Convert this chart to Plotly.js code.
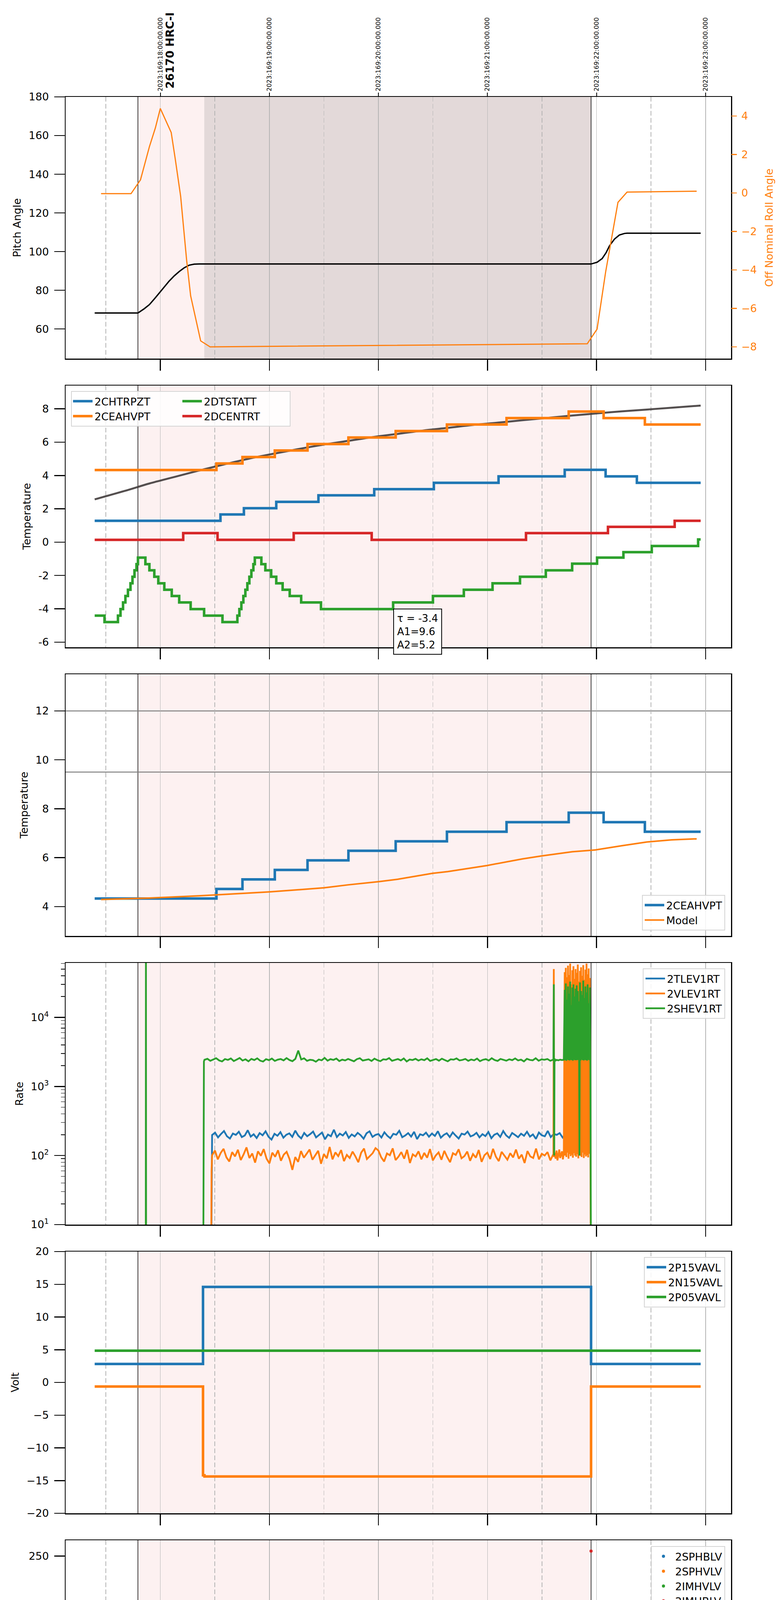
<!DOCTYPE html>
<html>
<head>
<meta charset="utf-8">
<script src="https://cdn.plot.ly/plotly-3.0.1.min.js"></script>
<style>body{margin:0;background:#fff}</style>
</head>
<body>
<div id="chart" style="width:2000px;height:6200px"></div>
<script>
// all times: minutes after 2023-06-18 14:00 local (EDT)
const T14 = Date.UTC(2023, 5, 18, 14, 0, 0);
function tx(m) { return new Date(T14 + m * 60000).toISOString().replace('T', ' ').replace('Z', ''); }
function txs(a) { return a.map(tx); }

const hourTicks = [0, 60, 120, 180, 240, 300];
const hourLabels = ['14h', '15h', '16h', '17h', '18h', '19h'];
const halfTicks = [-30, 30, 90, 150, 210, 270];
const utcLabels = ['2023:169:18:00:00.000', '2023:169:19:00:00.000', '2023:169:20:00:00.000',
                   '2023:169:21:00:00.000', '2023:169:22:00:00.000', '2023:169:23:00:00.000'];
const xRange = [-52.1, 314.0];
const obsStart = -12.3, obsEnd = 237.0, shadeStart = 24.2;

// ---- panel 1: pitch / roll
const pitchT = [-36.1, -12.3, -8.8, -6.0, -3.3, -0.5, 2.2, 4.9, 7.7, 10.4, 13.1, 15.9, 18.6, 21.4, 237.0, 240.3, 243.1, 245.3, 247.2, 249.9, 252.6, 255.4, 256.8, 297.3];
const pitchV = [68.3, 68.3, 70.5, 72.6, 75.5, 78.7, 81.8, 84.8, 87.5, 89.7, 91.6, 93.0, 93.5, 93.6, 93.6, 94.5, 96.4, 99.5, 103.1, 106.5, 108.6, 109.4, 109.5, 109.5];
const rollT = [-32.6, -16.1, -10.9, -8.8, -6.0, -2.7, 0, 6.0, 8.2, 11.2, 14.5, 16.7, 22.2, 27.4, 234.9, 240.3, 245.0, 251.8, 256.8, 295.1];
const rollV = [-0.04, -0.04, 0.68, 1.42, 2.40, 3.38, 4.39, 3.14, 1.78, -0.18, -3.51, -5.35, -7.69, -8.0, -7.84, -7.08, -4.12, -0.49, 0.04, 0.09];

// ---- panel 2 / 3: temperatures
const ceahT = [-36.1, 30.9, 45.2, 63.0, 81.0, 103.5, 129.5, 157.7, 190.5, 224.7, 243.9, 266.6, 297.3];
const ceahV = [4.33, 4.72, 5.11, 5.50, 5.89, 6.28, 6.67, 7.06, 7.45, 7.84, 7.45, 7.06, 7.06];
const chtrT = [-36.1, 33.1, 46.0, 63.8, 87.0, 117.7, 150.5, 186.1, 222.5, 245.0, 262.2, 297.3];
const chtrV = [1.28, 1.66, 2.04, 2.42, 2.81, 3.18, 3.56, 3.95, 4.34, 3.95, 3.56, 3.56];
const dcenT = [-36.1, 12.6, 31.5, 73.4, 116.3, 201.2, 246.3, 283.0, 297.3];
const dcenV = [0.14, 0.54, 0.14, 0.54, 0.14, 0.54, 0.92, 1.28, 1.28];
const dtstT = [-36.1, -30.7, -23.3, -21.9, -20.5, -19.2, -17.8, -16.4, -15.3, -14.2, -13.1, -12.3, -8.2, -6.0, -3.3, -1.1, 2.2, 6.3, 10.4, 16.7, 24.1, 34.2, 42.4, 43.5, 44.6, 45.7, 46.8, 47.9, 49.0, 50.1, 51.2, 52.0, 55.6, 57.8, 61.0, 63.8, 67.3, 71.2, 77.5, 88.4, 128.1, 150.0, 167.0, 182.8, 197.9, 212.1, 226.6, 240.3, 254.8, 270.4, 295.9, 297.3];
const dtstV = [-4.41, -4.80, -4.41, -4.02, -3.62, -3.23, -2.86, -2.47, -2.08, -1.69, -1.32, -0.93, -1.32, -1.69, -2.08, -2.47, -2.86, -3.23, -3.62, -4.02, -4.41, -4.80, -4.41, -4.02, -3.62, -3.23, -2.86, -2.47, -2.08, -1.69, -1.32, -0.93, -1.32, -1.69, -2.08, -2.47, -2.86, -3.23, -3.62, -4.02, -3.62, -3.23, -2.86, -2.47, -2.08, -1.69, -1.29, -0.93, -0.60, -0.23, 0.16, 0.16];
const fitT = [-36.1, -19.7, -6.0, 7.7, 21.4, 35.0, 48.7, 62.4, 76.1, 89.8, 103.5, 117.2, 130.8, 144.5, 158.2, 171.9, 185.6, 199.3, 213.0, 226.6, 240.3, 254.0, 267.7, 281.4, 297.3];
const fitV = [2.57, 3.07, 3.52, 3.91, 4.30, 4.66, 5.01, 5.31, 5.59, 5.85, 6.08, 6.31, 6.50, 6.70, 6.86, 7.03, 7.17, 7.32, 7.46, 7.60, 7.73, 7.85, 7.96, 8.07, 8.20];
const modelT = [-32.6, -6.0, 21.4, 35.0, 59.9, 76.1, 90.1, 103.5, 120.2, 130.8, 149.7, 158.2, 171.9, 179.8, 199.3, 209.7, 226.6, 239.8, 254.0, 267.7, 281.4, 295.1];
const modelV = [4.29, 4.35, 4.44, 4.50, 4.60, 4.69, 4.77, 4.89, 5.02, 5.12, 5.36, 5.43, 5.58, 5.68, 5.95, 6.07, 6.24, 6.32, 6.49, 6.64, 6.73, 6.77];

// ---- panel 4: rates
const tlevPreT = [27.9, 28.2], tlevPreV = [1, 80];
const tlevBand = [198,214,183,205,226,190,176,208,199,221,185,195,232,188,203,179,211,196,224,187,170,206,193,218,181,200,209,186,229,194,177,212,190,204,222,183,198,215,172,201,190,236,185,207,195,219,180,202,189,213,197,175,210,224,186,199,205,182,217,193,178,206,200,228,184,195,211,188,220,173,203,196,214,187,208,192,225,181,199,210,185,216,194,176,207,201,222,189,197,213,183,204,191,219,178,200,209,186,226,195,180,212,198,184,207,193,221,188,202,174,215,196,190,227,185,205,199,211,182,203];
const tlevBandSpan = [28.5, 223.0];
const vlevPreT = [27.9, 28.2], vlevPreV = [1, 60];
const vlevBand = [101,118,88,109,125,94,82,112,97,121,86,104,131,92,107,79,115,99,124,90,77,110,96,119,84,103,113,89,62,95,81,116,93,106,122,87,100,117,76,105,91,133,88,111,98,120,83,102,92,114,97,80,110,126,89,99,108,128,118,94,82,107,101,127,86,96,112,90,121,78,104,97,115,88,109,93,124,85,100,111,87,117,95,80,108,102,123,91,98,114,84,105,93,120,81,101,110,89,125,96,83,113,99,87,108,94,122,90,103,78,116,97,92,126,88,106,100,112,85,104];
const vlevBandSpan = [28.5, 216.2];
const vlevMidT = [216.3, 216.5, 216.7, 217.0, 217.5, 218.0, 218.5, 219.0, 219.5, 220.0, 220.5, 221.0, 221.5, 222.0];
const vlevMidV = [100, 50000, 95, 110, 90, 118, 85, 105, 122, 92, 101, 115, 88, 107];
const vlevChaos = [45000,100,52000,95,38000,110,56000,90, 41000,105,60000,98,30000,102,48000,93, 55000,108,36000,100,50000,96,44000,104, 58000,91,33000,107,47000,99,53000,95, 40000,110,57000,92,35000,103,49000,97, 60000,101,42000,94,51000,106,37000,100];
const vlevEndT = [236.9], vlevEndV = [2];
const shevPreT = [-36.1, -8.0, -7.9, -7.8, 23.6, 23.8, 24.0], shevPreV = [1, 1, 200000, 1, 1, 1100, 2300];
const shevBand = [2430,2510,2350,2460,2560,2380,2300,2490,2420,2540,2330,2450,2580,2370,2470,2310,2500,2410,2550,2360,2290,2480,2400,2530,2340,2440,2490,2380,2570,2410,2320,2500,3300,2460,2550,2350,2430,2400,2280,2450,2390,2590,2360,2480,2420,2530,2330,2440,2380,2500,2420,2310,2480,2560,2370,2430,2470,2340,2520,2400,2320,2470,2440,2570,2350,2420,2490,2380,2540,2300,2450,2410,2510,2370,2470,2400,2550,2340,2430,2490,2360,2520,2410,2310,2470,2440,2540,2380,2420,2500,2350,2450,2390,2530,2320,2430,2480,2370,2560,2410,2340,2500,2430,2360,2470,2400,2540,2380,2440,2300,2510,2420,2390,2560,2360,2460,2430,2490,2350,2440];
const shevBandSpan = [24.3, 216.2];
const shevMidT = [216.3, 216.5, 216.7, 216.9, 217.2, 217.6, 218.0, 219.0, 220.0, 221.0, 222.0];
const shevMidV = [2400, 30000, 100, 2400, 2450, 2380, 2420, 2390, 2440, 2410, 2430];
const shevChaos = [25000,2400,31000,2350,18000,2450,28000,2400, 22000,2380,33000,2420,15000,2400,27000,2360, 30000,2440,20000,2400,26000,2390,29000,2410, 24000,2430,17000,100,32000,2370,24000,2450, 21000,2400,34000,2380,19000,2420,28000,2400, 23000,2360,30000,2440,16000,2400,27000,2390];
const shevEndT = [237.0], shevEndV = [1];
const chaosStart = 222.5, chaosStep = 0.3;

// ---- panel 5: voltages
const p15T = [-36.1, 23.5, 237.0, 297.3], p15V = [2.82, 14.59, 2.82, 2.82];
const n15T = [-36.1, 23.5, 24.3, 237.0, 297.3], n15V = [-0.62, -14.2, -14.37, -0.62, -0.62];
const p05T = [-36.1, 297.3], p05V = [4.85, 4.85];

// ---- panel 6: HV monitors (2SPHBLV / 2SPHVLV carry no valid samples)
const sphbT = [0], sphbV = [null];
const sphvlT = [0], sphvlV = [null];
const imhvT = [25.0, 25.3, 25.6, 25.9, 26.3, 26.8, 27.4, 28.1, 29.0, 216.5, 217.1, 229.4, 232.7];
const imhvV = [100, 95, 92, 89, 86, 83, 81, 80, 79.5, 127, 127, 127, 127];
const imhvRunT = [29.0, 236.8], imhvRunV = [79.5, 79.5];
const imhbT = [24.8, 24.9, 25.0, 25.2, 25.4, 25.7, 26.0, 26.3, 26.6, 27.0, 27.5, 28.2, 29.0, 216.6, 222.7, 229.4, 230.6, 232.6, 234.3, 237.0];
const imhbV = [127, 125, 119, 106, 105, 101, 97, 94, 92, 90, 88, 87, 86.2, 79.5, 79.5, 79.5, 79.5, 79.5, 79.5, 255];
const imhbRunT = [29.0, 236.8], imhbRunV = [86.2, 86.2];

// ---- panel 7: detector temps
const spinT = [23.8, 33.1, 41.3, 42.7, 43.8, 44.9, 46.0, 47.4, 48.2, 49.3, 50.6, 52.0, 52.8, 53.9, 56.1, 57.5, 59.7, 61.9, 64.6, 68.7, 73.9, 81.0, 91.7, 122.6, 178.7, 182.3, 183.4, 216.45, 216.55];
const spinV = [3.25, 2.83, 3.25, 3.72, 4.14, 4.58, 5.08, 5.53, 6.03, 6.50, 6.95, 7.50, 8.02, 7.50, 6.95, 6.50, 6.03, 5.53, 5.08, 4.58, 4.14, 3.72, 3.25, 2.83, 3.25, 2.83, 3.25, -1, 3.25];
const spinChaos = [-0.5,1.8,-0.5,1.7,-0.5,1.8,-0.5,1.8, -0.5,1.7,-0.5,1.8,-0.5,1.8,-0.5,1.7, -0.5,1.8,-0.5,1.8,-0.5,1.7,-0.5,1.8, -0.5,1.8,-0.5,1.7,-0.5,1.8,-0.5,1.8, -0.5,1.7,-0.5,1.8,-0.5,1.8,-0.5,1.7, -0.5,1.8,-0.5,1.8,-0.5,1.7,-0.5,1.8];
const sphvT = [23.7, 23.8, 24.2, 55.6, 81.6, 102.6, 124.8, 147.8, 173.3, 200.6, 216.45, 216.55];
const sphvV = [-1, 14.2, 13.85, 14.15, 14.46, 14.72, 15.0, 15.25, 15.55, 15.85, -1, 15.85];
const sphvChaos = [10.5,15.85,10.5,15.85,10.5,15.85,10.5,15.85, 10.5,15.85,10.5,15.85,10.5,15.85,10.5,15.85, 10.5,15.85,10.5,15.85,10.5,15.85,10.5,15.85, 10.5,15.85,10.5,-1,10.5,15.85,10.5,15.85, 10.5,15.85,10.5,15.85,10.5,15.85,10.5,15.85, 10.5,15.85,10.5,15.85,10.5,15.85,10.5,15.85];
const iminT = [23.7, 23.8, 52.0, 124.0, 193.0, 216.45, 216.55, 216.7];
const iminV = [-1, 0.65, 1.07, 1.52, 1.94, -1, 3.33, 1.94];
const iminChaos = [1.9,3.33,1.9,3.33,1.9,3.33,1.9,3.33, 1.9,3.33,1.9,3.33,1.9,3.33,1.9,3.33, 1.9,3.33,1.9,3.33,1.9,3.33,1.9,3.33, 1.9,3.33,1.9,3.33,1.9,3.33,1.9,3.33, 1.9,3.33,1.9,3.33,1.9,3.33,1.9,3.33, 1.9,3.33,1.9,3.33,1.9,3.33,1.9,3.33];
const imhvaT = [23.7, 23.8, 31.5, 38.6, 44.6, 51.5, 58.8, 67.3, 77.5, 88.4, 100.7, 115.2, 130.8, 148.9, 171.4, 196.0, 216.45, 216.6];
const imhvaV = [-1, 13.31, 13.57, 13.88, 14.12, 14.41, 14.70, 14.96, 15.25, 15.54, 15.80, 16.09, 16.37, 16.66, 16.95, 17.21, 10.4, 17.21];
const imhvaChaos = [15.9,17.55,15.9,17.55,15.9,17.55,15.9,17.55, 15.9,17.55,15.9,17.55,15.9,17.55,15.9,17.55, 15.9,17.55,15.9,17.55,15.9,17.55,15.9,17.55, 15.9,17.55,15.9,17.55,15.9,17.55,15.9,17.55, 15.9,17.55,15.9,17.55,15.9,17.55,15.9,17.55, 15.9,17.55,15.9,17.55,15.9,17.55,15.9,17.55];
const imhvaEndT = [237.0, 237.05], imhvaEndV = [25, -5];

// ---- panel 8: FEA temps
const fhtrT = [33.6, 33.7, 41.1, 47.6, 47.9, 54.2, 61.0, 67.9, 74.7, 80.7, 87.0, 93.9, 101.3, 108.4, 115.8, 123.2, 130.8, 138.5, 146.2, 154.1, 161.8, 170.0, 178.2, 187.0, 196.0, 204.7, 214.3, 237.0, 267.7, 284.1, 297.3];
const fhtrV = [-11, -9.65, -9.23, -11, -8.82, -8.39, -7.98, -7.59, -7.20, -6.79, -6.40, -5.99, -5.61, -5.22, -4.81, -4.42, -4.02, -3.65, -3.28, -2.88, -2.49, -2.12, -1.74, -1.35, -0.98, -0.60, -0.25, 0.54, 0.16, -0.25, -0.25];
const fradT = [55.5, 55.6, 61.6, 67.9, 74.2, 80.2, 87.0, 94.7, 102.1, 109.5, 117.2, 124.8, 132.5, 140.7, 149.5, 158.2, 167.0, 175.5, 185.0, 194.3, 204.2, 213.8, 237.0, 248.0, 253.5, 259.5, 268.5, 281.4, 297.3];
const fradV = [-11, -9.65, -9.23, -8.81, -8.39, -7.98, -7.59, -7.20, -6.79, -6.40, -5.99, -5.61, -5.22, -4.81, -4.42, -4.02, -3.65, -3.28, -2.88, -2.49, -2.12, -1.74, -0.98, -1.35, -1.74, -2.12, -2.49, -2.88, -2.88];
const fepT = [25.5, 26.8, 29.0, 31.5, 34.2, 37.8, 42.7, 47.9, 53.4, 59.7, 65.1, 71.4, 78.0, 84.9, 91.2, 98.8, 106.2, 113.9, 122.1, 129.5, 137.1, 147.3, 156.3, 165.1, 175.2, 184.2, 193.8, 203.4, 210.2, 216.45, 216.6];
const fepV = [-8.64, -8.23, -7.82, -7.45, -7.00, -6.59, -6.20, -5.81, -5.42, -5.00, -4.63, -4.24, -3.87, -3.44, -3.03, -2.64, -2.25, -1.84, -1.43, -1.02, -0.63, -0.24, 0.15, 0.55, 0.95, 1.35, 1.75, 2.15, 2.55, -4.65, 2.85];
const fepChaos = [-4.65,3.5,-4.65,3.5,-4.65,3.5,-4.65,3.5, -4.65,3.5,-4.65,3.5,-4.65,3.5,-4.65,3.5, -4.65,3.5,-4.65,3.5,-4.65,3.5,-4.65,3.5, -4.65,3.5,-4.65,3.5,-4.65,3.5,-4.65,3.5, -4.65,3.5,-4.65,3.5,-4.65,3.5,-4.65,3.5, -4.65,3.5,-4.65,3.5,-4.65,3.5,-4.65,3.5];
const fe00T = [23.7, 23.8, 32.3, 38.3, 43.2, 48.7, 53.4, 57.5, 63.2, 68.4, 75.3, 75.7, 77.5, 82.9, 88.4, 94.7, 100.7, 105.7, 110.3, 116.6, 122.6, 129.5, 135.8, 136.2, 136.6, 141.8, 147.8, 154.1, 161.0, 167.8, 169.2, 169.6, 181.5, 187.8, 195.2, 202.0, 205.5, 205.9, 208.8, 209.2, 213.0, 213.4, 216.45, 216.55, 230.65, 237.0, 237.05];
const fe00V = [-11, -7.85, -7.50, -7.12, -6.75, -6.37, -6.00, -5.62, -5.25, -4.87, -5.30, -4.87, -4.50, -4.12, -3.75, -3.37, -3.00, -2.62, -2.25, -1.87, -1.50, -1.12, -0.75, -1.10, -0.75, -0.38, 0.00, 0.38, 0.75, 1.12, -0.20, 1.12, 1.50, 1.88, 2.25, 2.62, 3.50, 2.62, 1.75, 2.62, 1.75, 2.62, -12, 5, -12, 5, 5];

const C = {blue: '#1f77b4', orange: '#ff7f0e', green: '#2ca02c', red: '#d62728'};

// sample times for evenly sampled telemetry stretches
function spanTimes(span, n) { const out = []; for (let i = 0; i < n; i++) out.push(span[0] + (span[1] - span[0]) * i / (n - 1)); return out; }
function chaosTimes(n) { const out = []; for (let i = 0; i < n; i++) out.push(chaosStart + chaosStep * i); return out; }

function line(t, v, name, color, n, opts) {
  const ax = n === 1 ? '' : n;
  return Object.assign({
    type: 'scatter', mode: 'lines', name: name, x: txs(t), y: v,
    xaxis: 'x' + ax, yaxis: 'y' + ax, legend: 'legend' + (n === 1 ? '' : n),
    line: {color: color, width: 6.5, shape: 'hv'}
  }, opts || {});
}

const traces = [];
// panel 1
traces.push(line(pitchT, pitchV, 'Pitch', '#000', 1, {showlegend: false, line: {color: '#000', width: 3.5}}));
traces.push(line(rollT, rollV, 'Roll', C.orange, 1, {showlegend: false, yaxis: 'y9', line: {color: C.orange, width: 3}}));
// panel 2
traces.push(line(fitT, fitV, 'fit', 'rgba(60,60,60,0.9)', 2, {showlegend: false, line: {color: 'rgba(65,60,60,0.9)', width: 5, shape: 'spline'}}));
traces.push(line(chtrT, chtrV, '2CHTRPZT', C.blue, 2, {legendgroup: 'a'}));
traces.push(line(ceahT, ceahV, '2CEAHVPT', C.orange, 2, {legendgroup: 'a'}));
traces.push(line(dtstT, dtstV, '2DTSTATT', C.green, 2, {legendgroup: 'b'}));
traces.push(line(dcenT, dcenV, '2DCENTRT', C.red, 2, {legendgroup: 'b'}));
// panel 3
traces.push(line(ceahT, ceahV, '2CEAHVPT', C.blue, 3));
traces.push(line(modelT, modelV, 'Model', C.orange, 3, {line: {color: C.orange, width: 4, shape: 'linear'}}));
// panel 4
const thin = c => ({color: c, width: 4.5, shape: 'linear'});
traces.push(line(tlevPreT.concat(spanTimes(tlevBandSpan, tlevBand.length)), tlevPreV.concat(tlevBand), '2TLEV1RT', C.blue, 4, {line: thin(C.blue)}));
traces.push(line(vlevPreT.concat(spanTimes(vlevBandSpan, vlevBand.length), vlevMidT, chaosTimes(vlevChaos.length), vlevEndT),
  vlevPreV.concat(vlevBand, vlevMidV, vlevChaos, vlevEndV), '2VLEV1RT', C.orange, 4, {line: thin(C.orange)}));
traces.push(line(shevPreT.concat(spanTimes(shevBandSpan, shevBand.length), shevMidT, chaosTimes(shevChaos.length), shevEndT),
  shevPreV.concat(shevBand, shevMidV, shevChaos, shevEndV), '2SHEV1RT', C.green, 4, {line: thin(C.green)}));
// panel 5
traces.push(line(p15T, p15V, '2P15VAVL', C.blue, 5));
traces.push(line(n15T, n15V, '2N15VAVL', C.orange, 5));
traces.push(line(p05T, p05V, '2P05VAVL', C.green, 5));
// panel 6
const dots = c => ({mode: 'markers', marker: {color: c, size: 8}});
traces.push(line(sphbT, sphbV, '2SPHBLV', C.blue, 6, dots(C.blue)));
traces.push(line(sphvlT, sphvlV, '2SPHVLV', C.orange, 6, dots(C.orange)));
traces.push(line(imhvT, imhvV, '2IMHVLV', C.green, 6, dots(C.green)));
traces.push(line(imhvRunT, imhvRunV, '2IMHVLV', C.green, 6, {showlegend: false, line: {color: C.green, width: 8}}));
traces.push(line(imhbT, imhbV, '2IMHBLV', C.red, 6, dots(C.red)));
traces.push(line(imhbRunT, imhbRunV, '2IMHBLV', C.red, 6, {showlegend: false, line: {color: C.red, width: 8}}));
// panel 7
traces.push(line(spinT.concat(chaosTimes(spinChaos.length)), spinV.concat(spinChaos), '2SPINATM', C.blue, 7));
traces.push(line(sphvT.concat(chaosTimes(sphvChaos.length)), sphvV.concat(sphvChaos), '2SPHVATM', C.orange, 7));
traces.push(line(iminT.concat(chaosTimes(iminChaos.length)), iminV.concat(iminChaos), '2IMINATM', C.green, 7));
traces.push(line(imhvaT.concat(chaosTimes(imhvaChaos.length), imhvaEndT), imhvaV.concat(imhvaChaos, imhvaEndV), '2IMHVATM', C.red, 7));
// panel 8
traces.push(line(fhtrT, fhtrV, '2FHTRMZT', C.blue, 8));
traces.push(line(fradT, fradV, '2FRADPYT', C.orange, 8));
traces.push(line(fepT.concat(chaosTimes(fepChaos.length)), fepV.concat(fepChaos), '2FEPRATM', C.green, 8));
traces.push(line(fe00T, fe00V, '2FE00ATM', C.red, 8));
// placeholders so the label-only overlay axes get their subplots
traces.push({type: 'scatter', mode: 'lines', x: [tx(0)], y: [null], xaxis: 'x10', yaxis: 'y', showlegend: false});
traces.push({type: 'scatter', mode: 'lines', x: [tx(0)], y: [null], xaxis: 'x9', yaxis: 'y8', showlegend: false});

// ---- layout
const TOP = 248, PH = 670, STEP = 739, PAPER_H = 5843, LEFT = 168, PAPER_W = 1704;
function dom(i) { const top = STEP * (i - 1); return [1 - (top + PH) / PAPER_H, 1 - top / PAPER_H]; }
function px(p) { return (p - LEFT) / PAPER_W; }
function py(p) { return 1 - (p - TOP) / PAPER_H; }

const gridGray = '#b4b4b4';
function xAxis(i) {
  return {
    type: 'date', anchor: i === 1 ? 'y' : 'y' + i, domain: [0, 1],
    range: [tx(xRange[0]), tx(xRange[1])],
    tickmode: 'array', tickvals: txs(hourTicks), ticktext: hourLabels,
    showticklabels: i === 8, tickfont: {size: 28}, ticklabelstandoff: 4,
    ticks: 'outside', ticklen: 28, tickwidth: 2.5, tickcolor: '#000',
    showgrid: true, gridcolor: gridGray, gridwidth: 1.5,
    minor: {tickmode: 'array', tickvals: txs(halfTicks), showgrid: true, griddash: '12px,6px',
            gridcolor: gridGray, gridwidth: 1.5, ticks: i === 8 ? 'inside' : '', ticklen: 8, tickwidth: 2, tickcolor: '#000'},
    showline: true, mirror: true, linecolor: '#000', linewidth: 2.5,
    zeroline: false, automargin: false
  };
}
function yAxis(i, title, range, extra) {
  return Object.assign({
    domain: dom(i), anchor: i === 1 ? 'x' : 'x' + i, range: range,
    ticks: 'outside', ticklen: 27, tickwidth: 2.5, tickcolor: '#000', ticklabelstandoff: 8,
    tickfont: {size: 27},
    showline: true, mirror: true, linecolor: '#000', linewidth: 2.5,
    showgrid: false, zeroline: false, automargin: false,
    title: {text: title, font: {size: 27}, standoff: 12}
  }, extra || {});
}
function legendBox(x, y, xanchor, yanchor, extra) {
  return Object.assign({x: x, y: y, xanchor: xanchor, yanchor: yanchor, xref: 'paper', yref: 'paper',
    bgcolor: 'rgba(255,255,255,0.85)', bordercolor: '#d4d4d4', borderwidth: 2,
    font: {size: 27}, itemwidth: 50, tracegroupgap: 4}, extra || {});
}

const layout = {
  width: 2000, height: 6200,
  margin: {l: LEFT, r: 2000 - LEFT - PAPER_W, t: TOP, b: 6200 - TOP - PAPER_H},
  paper_bgcolor: '#fff', plot_bgcolor: '#fff',
  font: {family: 'DejaVu Sans, sans-serif', size: 27, color: '#000'},
  showlegend: true,
  xaxis: xAxis(1), xaxis2: xAxis(2), xaxis3: xAxis(3), xaxis4: xAxis(4),
  xaxis5: xAxis(5), xaxis6: xAxis(6), xaxis7: xAxis(7), xaxis8: xAxis(8),
  yaxis: yAxis(1, 'Pitch Angle', [44.7, 180], {tickmode: 'array', tickvals: [60, 80, 100, 120, 140, 160, 180]}),
  yaxis2: yAxis(2, 'Temperature', [-6.31, 9.40], {tickmode: 'array', tickvals: [-6, -4, -2, 0, 2, 4, 6, 8], ticktext: ['-6', '-4', '-2', '0', '2', '4', '6', '8']}),
  yaxis3: yAxis(3, 'Temperature', [2.8, 13.5], {dtick: 2}),
  yaxis4: yAxis(4, 'Rate', [1, 4.788], {type: 'log', tickmode: 'array', tickvals: [10, 100, 1000, 10000],
    ticktext: ['10<sup>1</sup>', '10<sup>2</sup>', '10<sup>3</sup>', '10<sup>4</sup>'],
    minor: {tickmode: 'array', tickvals: [20,30,40,50,60,70,80,90,200,300,400,500,600,700,800,900,2000,3000,4000,5000,6000,7000,8000,9000,20000,30000,40000,50000,60000],
            ticks: 'outside', ticklen: 10, tickwidth: 1.5, tickcolor: '#000', showgrid: false}}),
  yaxis5: yAxis(5, 'Volt', [-20, 20], {dtick: 5}),
  yaxis6: yAxis(6, 'HV Monitor', [0, 266], {dtick: 50}),
  yaxis7: yAxis(7, 'Detector Temp', [-0.44, 18.41], {dtick: 2.5, tickformat: '.1f'}),
  yaxis8: yAxis(8, 'FEA Temp', [-9.91, 2.91], {dtick: 2}),
  yaxis9: {overlaying: 'y', side: 'right', anchor: 'x', range: [-8.61, 4.99],
    tickmode: 'array', tickvals: [-8, -6, -4, -2, 0, 2, 4],
    ticks: 'outside', ticklen: 14, tickwidth: 2.5, tickcolor: C.orange, ticklabelstandoff: 6,
    tickfont: {size: 27, color: C.orange}, showline: false, showgrid: false, zeroline: false, automargin: false,
    title: {text: 'Off Nominal Roll Angle', font: {size: 27, color: C.orange}, standoff: 22}},
  xaxis9: {overlaying: 'x8', anchor: 'y8', side: 'bottom', type: 'date', range: [tx(xRange[0]), tx(xRange[1])],
    tickmode: 'array', tickvals: txs(halfTicks), ticktext: halfTicks.map(() => '30'), tickfont: {size: 18},
    ticks: '', ticklabelstandoff: 6, showgrid: false, showline: false, zeroline: false, automargin: false},
  xaxis10: {overlaying: 'x', anchor: 'y', side: 'top', type: 'date', range: [tx(xRange[0]), tx(xRange[1])],
    tickmode: 'array', tickvals: txs(hourTicks), ticktext: utcLabels, tickangle: -90, tickfont: {size: 16},
    ticks: 'outside', ticklen: 10, tickwidth: 2, tickcolor: '#000',
    showgrid: false, showline: false, zeroline: false, automargin: false},
  legend2: legendBox(px(182), py(1001), 'left', 'top', {orientation: 'h', traceorder: 'grouped', entrywidth: 215}),
  legend3: legendBox(px(1857), py(2382), 'right', 'bottom'),
  legend4: legendBox(px(1857), py(2479), 'right', 'top'),
  legend5: legendBox(px(1857), py(3218), 'right', 'top'),
  legend6: legendBox(px(1857), py(3958), 'right', 'top'),
  legend7: legendBox(px(1857), py(4696), 'right', 'top'),
  legend8: legendBox(px(1857), py(6078), 'right', 'bottom'),
  shapes: [],
  annotations: [
    {x: tx(5.3), xref: 'x', y: 1, yref: 'paper', yshift: 19, xanchor: 'center', yanchor: 'bottom',
     text: '<b>26170 HRC-I</b>', textangle: -90, font: {size: 28}, showarrow: false},
    {x: tx(128.1), xref: 'x2', y: -4.0, yref: 'y2', xanchor: 'left', yanchor: 'top', align: 'left',
     text: 'τ = -3.4<br>A1=9.6<br>A2=5.2', font: {size: 26}, showarrow: false,
     bordercolor: '#000', borderwidth: 2, borderpad: 8, bgcolor: '#fff'}
  ]
};
layout.xaxis8.title = {text: '2023-06-18 (169)', font: {size: 31}, standoff: 6};

for (let i = 1; i <= 8; i++) {
  const xr = i === 1 ? 'x' : 'x' + i, yr = (i === 1 ? 'y' : 'y' + i) + ' domain';
  layout.shapes.push({type: 'rect', xref: xr, yref: yr, x0: tx(obsStart), x1: tx(obsEnd), y0: 0, y1: 1,
    fillcolor: '#fdf1f1', line: {width: 0}, layer: 'below'});
  if (i === 1) layout.shapes.push({type: 'rect', xref: xr, yref: yr, x0: tx(shadeStart), x1: tx(obsEnd), y0: 0, y1: 1,
    fillcolor: '#e3d9d9', line: {width: 0}, layer: 'below'});
  [obsStart, obsEnd].forEach(t => layout.shapes.push({type: 'line', xref: xr, yref: yr, x0: tx(t), x1: tx(t), y0: 0, y1: 1,
    line: {color: '#000', width: 1.5}, layer: 'below'}));
}
[12, 9.5].forEach(v => layout.shapes.push({type: 'line', xref: 'x3 domain', yref: 'y3', x0: 0, x1: 1, y0: v, y1: v,
  line: {color: '#808080', width: 2.5}, layer: 'below'}));

Plotly.newPlot('chart', traces, layout, {staticPlot: true});
</script>
</body>
</html>
